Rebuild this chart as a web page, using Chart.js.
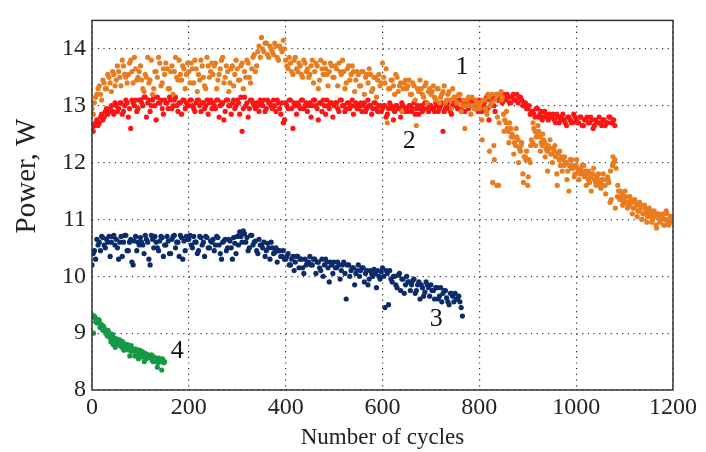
<!DOCTYPE html>
<html><head><meta charset="utf-8">
<script src="https://cdn.jsdelivr.net/npm/chart.js@4/dist/chart.umd.min.js"></script>
<style>html,body{margin:0;padding:0;background:#fff}#wrap{width:706px;height:452px;position:relative}</style>
</head><body><div id="wrap"><canvas id="c"></canvas></div>
<script>
// ---- data ----
const xTickValues = [0, 200, 400, 600, 800, 1000, 1200];
const yTickValues = [8, 9, 10, 11, 12, 13, 14];
const xTitle = 'Number of cycles';
const yTitle = 'Power, W';

// series 1 (orange): interleaved passes, every 5 cycles (start 0, 2.5; third pass from cycle 801)
const cycleStep1 = 5;
const power1 = [
12.95,13.05,13.2,13.35,13.1,13.4,13.3,13.5,13.25,13.55,
13.45,13.6,13.35,13.7,13.5,13.55,13.8,13.4,13.65,13.5,
13.7,13.3,13.55,13.85,13.45,13.2,13.6,13.5,13.75,13.4,
13.55,13.65,13.3,13.7,13.6,13.5,13.8,13.45,13.65,13.55,
13.6,13.75,13.4,13.65,13.55,13.8,13.5,13.3,13.7,13.6,
13.55,13.75,13.45,13.65,13.85,13.5,13.6,13.4,13.7,13.55,
13.65,13.45,13.75,13.6,13.8,13.5,13.65,13.9,13.7,14.05,
14.2,13.95,14.1,13.85,14.0,13.9,14.05,13.8,14.0,14.15,
13.8,13.65,13.75,13.55,13.85,13.6,13.7,13.5,13.75,13.65,
13.55,13.8,13.6,13.7,13.45,13.65,13.75,13.55,13.6,13.7,
13.5,13.65,13.75,13.55,13.6,13.4,13.7,13.55,13.6,13.45,
13.55,13.35,13.6,13.5,13.4,13.55,13.3,13.5,13.45,13.35,
13.75,13.4,12.7,13.3,13.45,13.2,13.5,13.35,12.9,13.4,
13.3,13.45,13.2,13.35,12.65,13.25,13.3,13.15,13.4,13.25,
13.2,13.35,13.1,13.3,13.15,13.25,13.05,13.2,13.1,13.3,
13.15,13.05,13.2,13.0,12.6,13.1,13.0,13.15,12.95,13.05,
13.0,12.75,13.1,12.9,13.15,13.05,12.3,13.2,11.6,13.25,
12.85,12.7,12.55,12.6,12.45,12.3,12.4,12.2,11.8,12.1,
11.6,12.0,12.35,12.55,12.5,12.45,12.3,12.35,12.2,12.25,
12.15,12.2,11.8,12.05,12.1,11.95,12.0,11.5,11.9,11.95,
11.95,11.85,11.9,11.8,11.85,11.7,11.75,11.8,11.65,11.7,
11.65,11.7,11.6,11.75,11.3,11.95,12.05,11.4,11.35,11.45,
11.35,11.3,11.25,11.3,11.2,11.25,11.15,11.2,11.1,11.15,
11.1,11.05,11.1,10.9,11.05,11.0,11.1,11.0,10.95,11.05
];
const power1b = [
12.85,13.15,13.3,13.2,13.45,13.3,13.55,13.4,13.6,13.35,
13.7,13.5,13.8,13.55,13.4,13.75,13.6,13.85,13.45,13.6,
13.45,13.25,13.5,13.4,13.8,13.3,13.6,13.85,13.35,13.65,
13.75,13.3,13.6,13.2,13.85,13.45,13.55,13.7,13.3,13.75,
13.4,13.65,13.8,13.25,13.45,13.7,13.35,13.85,13.5,13.75,
13.7,13.3,13.55,13.8,13.4,13.7,13.25,13.65,13.35,13.8,
13.45,13.7,13.3,13.5,13.75,13.4,13.85,13.6,13.95,13.85,
14.0,14.1,13.9,14.05,13.95,14.1,13.85,14.05,13.95,14.0,
13.7,13.85,13.6,13.8,13.65,13.75,13.55,13.8,13.6,13.5,
13.7,13.4,13.75,13.3,13.8,13.55,13.65,13.35,13.75,13.5,
13.7,13.35,13.6,13.8,13.3,13.65,13.45,13.7,13.25,13.6,
13.35,13.6,13.2,13.55,13.65,13.25,13.5,13.15,13.55,13.4,
13.5,13.65,13.3,13.45,13.35,13.55,13.25,13.4,13.3,13.45,
13.35,13.2,13.4,13.1,13.3,13.45,13.2,13.35,13.05,13.3,
13.25,13.15,13.3,13.05,13.2,13.35,13.1,13.25,12.95,13.15,
13.05,13.2,12.9,13.1,13.0,13.15,12.85,13.0,13.1,12.95,
13.05,13.1,12.95,13.2,13.0,11.65,13.1,12.8,13.2,13.15,
12.75,12.6,12.7,12.5,12.35,12.45,12.25,12.35,12.1,12.2,
12.05,12.4,12.6,12.45,12.55,12.35,12.4,12.25,12.3,12.15,
12.25,12.1,12.15,11.95,12.05,12.0,11.85,12.05,11.9,11.8,
11.9,11.8,11.95,11.75,11.8,11.65,11.8,11.7,11.75,11.6,
11.7,11.6,11.7,11.65,11.35,12.0,11.9,11.5,11.4,11.3,
11.4,11.25,11.35,11.2,11.3,11.15,11.25,11.1,11.2,11.05,
11.15,11.0,11.05,11.1,10.95,11.05,10.9,11.1,11.0,10.95
];
const cycleStart1c = 801;
const power1c = [
12.95,12.4,13.1,12.85,12.2,13.2,12.05,11.6,12.7,13.1,
12.55,12.9,12.35,12.45,12.15,12.6,12.0,12.3,11.65,12.05,
11.75,12.3,12.7,12.3,12.65,12.2,12.5,12.1,11.85,12.4,
12.0,12.3,11.6,12.2,11.85,12.1,11.7,11.95,12.05,11.75,
12.05,11.7,11.85,11.95,11.6,11.85,11.5,11.9,11.6,11.8,
11.55,11.8,11.45,11.7,11.85,12.1,11.2,11.6,11.5,11.25,
11.5,11.2,11.4,11.1,11.35,11.05,11.3,11.0,11.25,10.95,
11.2,10.95,11.15,10.85,11.1,11.0,10.9,11.15,10.9,11.05
];

// series 2 (red): two interleaved passes, every 5 cycles up to ~1080
const cycleStep2 = 5;
const power2 = [
12.6,12.65,12.75,12.7,12.85,12.8,12.95,12.9,13.0,12.85,
13.0,12.95,13.05,12.9,13.1,12.8,12.6,13.05,13.1,12.95,
13.1,13.0,13.15,13.05,12.9,13.1,13.0,13.15,13.05,12.95,
13.1,13.05,13.15,12.95,13.1,13.0,13.05,12.85,13.1,13.05,
13.0,13.1,12.95,13.05,13.1,12.9,13.05,13.0,12.85,13.1,
13.05,12.95,13.1,13.0,13.05,12.9,13.1,13.0,13.05,12.95,
13.1,12.85,12.55,13.15,13.05,12.95,13.1,13.0,13.05,12.9,
13.05,13.1,12.95,13.05,13.0,13.1,12.9,13.05,12.85,12.7,
13.05,12.95,13.1,12.6,13.0,13.05,12.95,13.1,13.0,12.9,
13.05,13.0,13.1,12.95,13.05,12.9,13.0,13.1,12.95,13.05,
13.0,13.05,12.9,13.1,13.0,12.95,13.05,13.0,12.85,13.05,
12.95,13.05,13.0,12.9,13.1,13.0,12.95,13.05,12.9,13.0,
12.95,13.0,12.85,13.05,12.95,12.9,13.0,12.95,13.05,12.9,
12.95,13.0,12.9,13.05,12.95,12.85,13.0,12.95,13.05,12.9,
13.0,12.95,13.05,12.9,13.0,12.55,12.95,13.05,12.9,13.0,
13.05,12.95,13.1,13.0,12.9,13.05,13.0,13.1,12.95,13.05,
13.1,12.9,13.05,13.15,12.75,13.1,13.0,13.2,13.1,13.15,
13.2,13.1,13.15,13.05,13.2,13.1,13.05,13.15,13.0,13.05,
12.95,12.85,12.9,12.8,12.95,12.85,12.75,12.9,12.8,12.85,
12.8,12.75,12.85,12.7,12.8,12.75,12.65,12.8,12.7,12.85,
12.75,12.7,12.8,12.65,12.75,12.7,12.8,12.6,12.75,12.7,
12.7,12.75,12.65,12.7,12.8,12.7,12.65
];
const power2b = [
12.55,12.7,12.65,12.8,12.75,12.9,12.85,12.95,12.9,13.05,
12.9,13.05,12.85,13.0,13.05,12.95,13.1,13.0,12.9,13.1,
13.05,13.15,12.8,13.1,13.0,13.15,12.75,13.05,13.1,12.85,
13.05,12.95,13.1,13.0,13.15,12.9,13.05,13.1,12.95,13.0,
13.1,13.0,12.9,13.1,13.0,13.05,12.95,13.1,13.05,12.95,
13.0,13.1,12.8,13.05,12.75,13.1,13.0,12.85,13.1,13.0,
13.05,13.15,12.95,13.0,12.8,13.1,13.05,12.95,13.0,13.1,
13.0,12.9,13.1,13.05,12.95,13.0,13.1,12.95,13.05,12.75,
13.0,13.1,12.95,13.05,12.85,13.0,13.1,12.95,13.05,13.0,
12.8,13.1,13.0,12.75,13.05,13.1,12.85,13.0,13.05,12.8,
13.05,12.95,13.1,13.0,12.9,13.05,12.95,13.1,13.0,12.95,
13.0,12.9,13.05,12.95,13.0,12.85,13.05,12.95,13.0,12.9,
13.0,12.8,12.95,13.0,12.75,13.0,12.95,12.8,13.0,12.95,
12.9,13.0,12.95,12.85,13.0,12.95,12.9,13.05,12.95,13.0,
12.95,12.9,13.0,12.95,13.05,12.9,13.0,12.95,12.85,13.05,
13.0,13.1,12.95,13.05,13.0,12.95,13.1,13.05,13.0,12.9,
13.05,13.0,13.1,12.95,13.1,13.15,12.9,13.1,13.2,13.05,
13.15,13.2,13.05,13.15,13.1,13.2,13.15,13.1,13.05,12.95,
13.0,12.9,12.85,12.95,12.8,12.9,12.8,12.85,12.75,12.8,
12.85,12.7,12.8,12.75,12.85,12.7,12.8,12.75,12.7,12.8,
12.7,12.8,12.65,12.75,12.8,12.7,12.75,12.65,12.7,12.8,
12.65,12.75,12.7,12.8,12.7,12.75
];

// series 3 (navy): two interleaved passes, every 5 cycles up to ~765
const cycleStep3 = 5;
const power3 = [
10.2,10.45,10.65,10.6,10.7,10.55,10.65,10.7,10.6,10.72,
10.65,10.3,10.7,10.6,10.72,10.45,10.65,10.2,10.7,10.6,
10.68,10.55,10.72,10.6,10.2,10.65,10.7,10.5,10.62,10.68,
10.55,10.7,10.4,10.65,10.72,10.6,10.35,10.68,10.62,10.7,
10.65,10.55,10.7,10.6,10.45,10.68,10.6,10.7,10.5,10.62,
10.65,10.55,10.68,10.4,10.6,10.65,10.5,10.62,10.3,10.58,
10.7,10.78,10.6,10.75,10.68,10.5,10.72,10.6,10.45,10.65,
10.55,10.6,10.45,10.5,10.6,10.4,10.5,10.45,10.35,10.45,
10.3,10.4,10.2,10.35,10.25,10.35,10.3,10.15,10.3,10.25,
10.35,10.2,10.3,10.25,10.15,10.3,10.2,10.25,9.9,10.2,
10.25,10.15,10.2,10.1,10.25,9.6,10.2,10.1,10.15,10.05,
10.2,10.1,10.15,10.05,9.85,10.1,10.0,10.05,10.1,9.95,
10.15,9.45,10.05,10.1,9.9,10.0,9.8,10.05,9.95,9.7,
10.0,9.9,9.85,9.95,9.75,9.9,9.85,9.65,9.9,9.8,
9.85,9.75,9.8,9.6,9.8,9.7,9.75,9.55,9.7,9.65,
9.7,9.6,9.55,9.3
];
const power3b = [
10.4,10.3,10.55,10.45,10.68,10.5,10.6,10.35,10.7,10.55,
10.5,10.6,10.35,10.72,10.45,10.6,10.25,10.62,10.45,10.55,
10.6,10.4,10.65,10.3,10.72,10.5,10.6,10.45,10.7,10.35,
10.55,10.62,10.4,10.7,10.5,10.6,10.72,10.3,10.45,10.65,
10.72,10.5,10.6,10.4,10.7,10.55,10.35,10.68,10.5,10.6,
10.45,10.7,10.55,10.3,10.62,10.45,10.65,10.5,10.68,10.4,
10.55,10.7,10.8,10.6,10.45,10.72,10.55,10.62,10.4,10.55,
10.5,10.35,10.58,10.3,10.5,10.42,10.25,10.45,10.35,10.3,
10.35,10.2,10.3,10.1,10.35,10.15,10.3,10.05,10.2,10.25,
10.2,10.3,10.05,10.25,10.1,10.0,10.3,10.15,10.25,10.05,
10.15,10.25,9.95,10.2,10.05,10.2,10.0,10.15,9.85,10.1,
10.0,10.15,9.9,10.1,9.95,10.05,10.12,9.8,10.0,10.08,
10.0,10.1,9.5,9.95,10.0,9.85,10.02,9.75,9.95,9.85,
9.9,9.75,9.92,9.7,9.85,9.6,9.8,9.72,9.85,9.65,
9.75,9.6,9.8,9.65,9.55,9.75,9.62,9.5,9.7,9.55,
9.6,9.65,9.45
];

// series 4 (green): two interleaved passes, every 3 cycles up to ~150
const cycleStep4 = 3;
const power4 = [
9.32,9.0,9.28,9.25,9.2,9.22,9.15,9.1,9.12,9.05,
9.0,9.05,8.95,8.85,8.98,8.92,8.75,8.9,8.85,8.88,
8.82,8.85,8.7,8.8,8.78,8.75,8.6,8.78,8.72,8.7,
8.72,8.68,8.55,8.7,8.65,8.67,8.5,8.64,8.62,8.6,
8.6,8.62,8.5,8.58,8.55,8.4,8.56,8.54,8.35,8.52,8.5
];
const power4b = [
9.28,9.3,9.2,9.18,9.24,9.1,9.15,9.05,9.08,9.0,
8.95,9.02,8.92,8.95,8.8,8.9,8.85,8.8,8.87,8.78,
8.75,8.83,8.76,8.72,8.8,8.7,8.74,8.68,8.72,8.6,
8.66,8.7,8.62,8.66,8.58,8.64,8.6,8.55,8.62,8.57,
8.58,8.52,8.56,8.5,8.55,8.48,8.52,8.5,8.55,8.48
];

// curve labels: text, cycle, power
const curveLabelText = ['1', '2', '3', '4'];
const curveLabelCycle = [764, 655, 711, 176];
const curveLabelPower = [13.68, 12.38, 9.25, 8.69];

// ---- build ----
function toPoints(start, step, values) { return values.map((v, i) => ({ x: start + i * step, y: v })); }
const FONT = "'Liberation Serif', 'Times New Roman', serif";

const overlayPlugin = {
  id: 'overlay',
  afterDraw(chart) {
    const { ctx, chartArea: a, scales } = chart;
    ctx.save();
    ctx.strokeStyle = '#333';
    ctx.lineWidth = 1.5;
    ctx.strokeRect(a.left, a.top, a.right - a.left, a.bottom - a.top);
    ctx.fillStyle = '#111';
    ctx.font = '26px ' + FONT;
    ctx.textAlign = 'center';
    ctx.textBaseline = 'middle';
    curveLabelText.forEach((t, i) => {
      ctx.fillText(t, scales.x.getPixelForValue(curveLabelCycle[i]), scales.y.getPixelForValue(curveLabelPower[i]));
    });
    // y axis title
    ctx.translate(27, 176);
    ctx.rotate(-Math.PI / 2);
    ctx.fillStyle = '#222';
    ctx.font = '29px ' + FONT;
    ctx.fillText(yTitle, 0, 0);
    ctx.restore();
  }
};

const ds = (data, color) => ({ data, backgroundColor: color, borderWidth: 0, pointRadius: 2.6, pointHoverRadius: 2.6 });

new Chart(document.getElementById('c'), {
  type: 'scatter',
  data: {
    datasets: [
      ds(toPoints(0, cycleStep4, power4).concat(toPoints(1.5, cycleStep4, power4b)), '#179846'),
      ds(toPoints(0, cycleStep3, power3).concat(toPoints(2.5, cycleStep3, power3b)), '#0c2b6b'),
      ds(toPoints(0, cycleStep1, power1).concat(toPoints(2.5, cycleStep1, power1b), toPoints(cycleStart1c, cycleStep1, power1c)), '#e97c1f'),
      ds(toPoints(0, cycleStep2, power2).concat(toPoints(2.5, cycleStep2, power2b)), '#ff1414')
    ]
  },
  options: {
    responsive: true, maintainAspectRatio: false, animation: false,
    layout: { padding: { top: 15, right: 33, left: 0, bottom: 0 } },
    plugins: { legend: { display: false }, tooltip: { enabled: false } },
    scales: {
      x: {
        type: 'linear', min: 0, max: 1200,
        afterBuildTicks: s => { s.ticks = xTickValues.map(v => ({ value: v })); },
        afterFit: s => { s.height = 62; },
        grid: { color: '#333', lineWidth: 1.2, drawTicks: false },
        border: { display: false, dash: [1.2, 4.5] },
        ticks: { color: '#222', padding: 3, maxRotation: 0, autoSkip: false, font: { family: FONT, size: 24 },
                 callback: v => String(v) },
        title: { display: true, text: xTitle, color: '#222', padding: { top: 0, bottom: 0 }, font: { family: FONT, size: 23 } }
      },
      y: {
        type: 'linear', min: 8, max: 14.5,
        afterBuildTicks: s => { s.ticks = yTickValues.map(v => ({ value: v })); },
        afterFit: s => { s.width = 92; },
        grid: { color: '#333', lineWidth: 1.2, drawTicks: false },
        border: { display: false, dash: [1.2, 4.5] },
        ticks: { color: '#222', padding: 6, autoSkip: false, font: { family: FONT, size: 24 },
                 callback: v => String(v) },
        title: { display: false, text: yTitle }
      }
    }
  },
  plugins: [overlayPlugin]
});
</script>
</body></html>
